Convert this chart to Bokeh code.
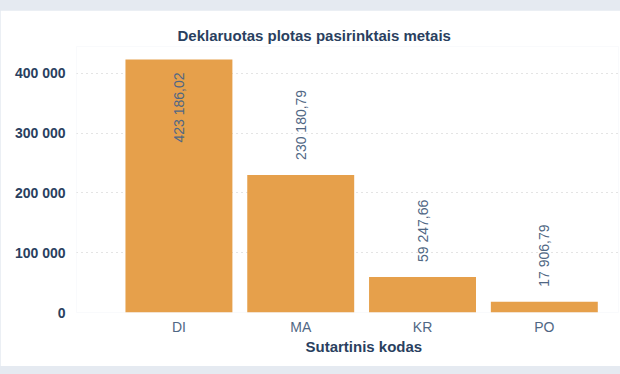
import math
from bokeh.plotting import figure
from bokeh.models import ColumnDataSource, FixedTicker, Range1d, Title
from bokeh.embed import file_html
from bokeh.resources import INLINE
from bokeh.core.properties import value

# ---- data ----
categories = ["DI", "MA", "KR", "PO"]
areas = [423186.02, 230180.79, 59247.66, 17906.79]
y_ticks = [0, 100000, 200000, 300000, 400000]

title_text = "Deklaruotas plotas pasirinktais metais"
x_title = "Sutartinis kodas"


def fmt_num(v, decimals=2):
    s = f"{v:,.{decimals}f}"
    return s.replace(",", " ").replace(".", ",")


xs = list(range(len(categories)))
labels = [fmt_num(v) for v in areas]

TEXT_DARK = "#2a3f5f"
TEXT_MID = "#506784"
BAR = "#E6A04B"
FONT = "Liberation Sans"

p = figure(
    width=620, height=356,
    x_range=Range1d(-0.841, 3.609),
    y_range=Range1d(0, 445000),
    output_backend="svg", toolbar_location=None,
    min_border_left=76, min_border_right=2,
    min_border_top=36, min_border_bottom=54,
    background_fill_color="white", border_fill_color="white",
    outline_line_color=None,
)

t = Title(text=title_text, align="left", offset=101,
          text_font=FONT, text_font_size="15px", text_font_style="bold",
          text_color=TEXT_DARK, standoff=6)
p.add_layout(t, "above")

src = ColumnDataSource(dict(x=xs, top=areas, label=labels))
p.vbar(x="x", top="top", width=0.878, bottom=0, source=src,
       fill_color=BAR, line_color=None)

# value labels: the tallest bar gets its label inside, others above
tall = max(areas)
inside = ColumnDataSource(dict(
    x=[x for x, v in zip(xs, areas) if v == tall],
    y=[v for v in areas if v == tall],
    t=[l for l, v in zip(labels, areas) if v == tall]))
outside = ColumnDataSource(dict(
    x=[x for x, v in zip(xs, areas) if v != tall],
    y=[v for v in areas if v != tall],
    t=[l for l, v in zip(labels, areas) if v != tall]))

p.text(x="x", y="y", text="t", source=inside, angle=math.pi / 2,
       text_align="right", text_baseline="middle", y_offset=13,
       text_font=value(FONT), text_font_size="14px", text_color=TEXT_MID)
p.text(x="x", y="y", text="t", source=outside, angle=math.pi / 2,
       text_align="left", text_baseline="middle", y_offset=-15,
       text_font=value(FONT), text_font_size="14px", text_color=TEXT_MID)

# axes
p.xaxis.ticker = FixedTicker(ticks=xs)
p.xaxis.major_label_overrides = {i: c for i, c in enumerate(categories)}
p.xaxis.axis_line_color = None
p.xaxis.major_tick_line_color = None
p.xaxis.minor_tick_line_color = None
p.xaxis.major_label_text_font = FONT
p.xaxis.major_label_text_font_size = "14px"
p.xaxis.major_label_text_color = TEXT_MID
p.xaxis.major_label_standoff = 0

xt = Title(text=x_title, align="left", offset=229,
           text_font=FONT, text_font_size="15px", text_font_style="bold",
           text_color=TEXT_DARK, standoff=-4)
p.add_layout(xt, "below")

p.yaxis.ticker = FixedTicker(ticks=y_ticks)
p.yaxis.major_label_overrides = {v: fmt_num(v, 0) for v in y_ticks}
p.yaxis.axis_line_color = None
p.yaxis.major_tick_line_color = None
p.yaxis.minor_tick_line_color = None
p.yaxis.major_label_text_font = FONT
p.yaxis.major_label_text_font_size = "14px"
p.yaxis.major_label_text_font_style = "bold"
p.yaxis.major_label_text_color = TEXT_DARK
p.yaxis.major_label_standoff = 5

p.xgrid.grid_line_color = None
p.ygrid.grid_line_color = "#c8c8c8"
p.ygrid.grid_line_dash = "1 4"
p.ygrid.grid_line_width = 1

template = """{% block postamble %}<style>html, body { background: #e5eaf1; } body { margin: 10px 0 8px 0; }</style>{% endblock %}"""

open("out.html", "w").write(file_html(p, INLINE, template=template))
